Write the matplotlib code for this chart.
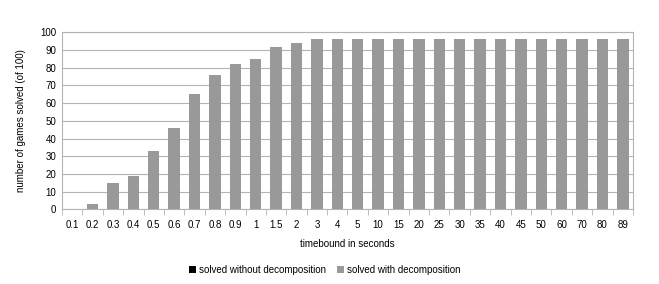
import matplotlib

matplotlib.use("Agg")

import matplotlib.pyplot as plt
import numpy as np

timebounds = ["0.1", "0.2", "0.3", "0.4", "0.5", "0.6", "0.7", "0.8", "0.9", "1",
              "1.5", "2", "3", "4", "5", "10", "15", "20", "25", "30", "35", "40",
              "45", "50", "60", "70", "80", "89"]
solved_without = [0] * 28
solved_with = [0, 3, 15, 19, 33, 46, 65, 76, 82, 85, 92, 94, 96, 96, 96, 96, 96,
               96, 96, 96, 96, 96, 96, 96, 96, 96, 96, 96]

plt.rcParams["font.family"] = ["Liberation Sans", "DejaVu Sans"]

fig = plt.figure(figsize=(6.59, 2.84), dpi=100)
ax = fig.add_axes([0.094, 0.263, 0.8666, 0.623])

x = np.arange(len(timebounds))
grid_color = "#b3b3b3"

ax.bar(x, solved_without, width=0.56, color="#000000", label="solved without decomposition", zorder=3)
ax.bar(x, solved_with, width=0.56, color="#999999", label="solved with decomposition", zorder=3)

ax.set_xlim(-0.5, len(timebounds) - 0.5)
ax.set_ylim(0, 100)
ax.set_yticks(np.arange(0, 101, 10))
ax.yaxis.grid(True, color=grid_color, linewidth=0.8, zorder=0)

ax.set_xticks(x)
ax.set_xticklabels(timebounds, fontsize=7)
ax.set_xticks(np.arange(-0.5, len(timebounds)), minor=True)
ax.tick_params(axis="x", which="major", length=0, pad=8)
ax.tick_params(axis="x", which="minor", length=4, color=grid_color, direction="out")
ax.tick_params(axis="y", length=0, labelsize=7, pad=4)

for spine in ax.spines.values():
    spine.set_color(grid_color)
    spine.set_linewidth(0.8)

ax.set_ylabel("number of games solved (of 100)", fontsize=7, labelpad=10)
ax.set_xlabel("timebound in seconds", fontsize=7, labelpad=6)

fig.legend(loc="lower center", bbox_to_anchor=(0.493, 0.0), ncol=2, frameon=False,
           fontsize=7, handlelength=0.7, handleheight=0.7, handletextpad=0.3,
           columnspacing=1.2)

fig.savefig("out.png", dpi=100)
